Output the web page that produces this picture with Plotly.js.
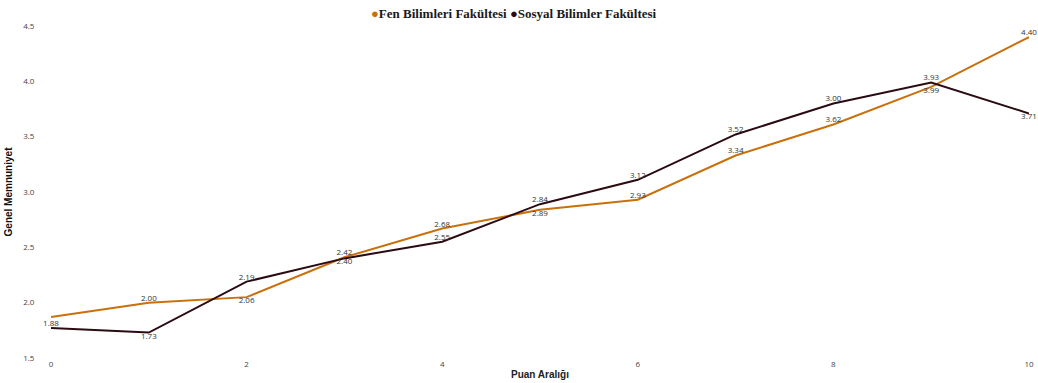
<!DOCTYPE html>
<html>
<head>
<meta charset="utf-8">
<script src="https://cdn.plot.ly/plotly-3.0.1.min.js"></script>
<style>html,body{margin:0;padding:0;background:#fff;}#chart{width:1038px;height:383px;}</style>
</head>
<body>
<div id="chart"></div>
<script>
const xVals = [0, 1, 2, 3, 4, 5, 6, 7, 8, 9, 10];
const fenValues = [1.87, 2.00, 2.05, 2.41, 2.67, 2.84, 2.93, 3.33, 3.61, 3.95, 4.40];
const sosyalValues = [1.77, 1.73, 2.19, 2.40, 2.55, 2.89, 3.11, 3.52, 3.80, 3.99, 3.71];
const fenLabels = ["", "2.00", "2.06", "2.42", "2.68", "2.89", "2.93", "3.34", "3.62", "3.99", "4.40"];
const fenLabelPos = ["bottom center", "top center", "bottom center", "top center", "top center", "bottom center", "top center", "top center", "top center", "bottom center", "top center"];
const sosyalLabels = ["1.88", "1.73", "2.19", "2.40", "2.55", "2.84", "3.12", "3.52", "3.00", "3.93", "3.71"];
const sosyalLabelPos = ["top center", "bottom center", "top center", "bottom center", "top center", "top center", "top center", "top center", "top center", "top center", "bottom center"];
const seriesNames = ["Fen Bilimleri Fakültesi", "Sosyal Bilimler Fakültesi"];
const seriesColors = ["#c8700c", "#2b0b12"];
const xTickVals = [0, 2, 4, 6, 8, 10];
const yTickVals = [1.5, 2.0, 2.5, 3.0, 3.5, 4.0, 4.5];
const yTickText = ["1.5", "2.0", "2.5", "3.0", "3.5", "4.0", "4.5"];

const labelFont = {family: "Open Sans, sans-serif", size: 8, color: "#333"};

const traces = [
  {
    x: xVals, y: fenValues, name: seriesNames[0], type: "scatter", mode: "lines+text",
    line: {color: seriesColors[0], width: 2}, showlegend: false,
    text: fenLabels, textposition: fenLabelPos, textfont: labelFont,
    cliponaxis: false
  },
  {
    x: xVals, y: sosyalValues, name: seriesNames[1], type: "scatter", mode: "lines+text",
    line: {color: seriesColors[1], width: 2}, showlegend: false,
    text: sosyalLabels, textposition: sosyalLabelPos, textfont: labelFont,
    cliponaxis: false
  }
];

const legendText = seriesNames.map(function(n, i){
  return "<span style='color:" + seriesColors[i] + "'>●</span>" + n;
}).join(" ");

const layout = {
  width: 1038, height: 383,
  margin: {l: 51, r: 9, t: 26, b: 25, autoexpand: false},
  paper_bgcolor: "#fff", plot_bgcolor: "#fff",
  showlegend: false,
  annotations: [{
    xref: "paper", yref: "paper", x: 0.473, y: 1.0, xanchor: "center", yanchor: "bottom", yshift: 3,
    showarrow: false, text: legendText,
    font: {family: "Liberation Serif, serif", size: 13, color: "#1a1a1a", weight: "bold"}
  }],
  xaxis: {
    range: [0, 10], tickvals: xTickVals, showgrid: false, zeroline: false, showline: false,
    ticks: "", tickfont: {family: "Open Sans, sans-serif", size: 8, color: "#444"},
    title: {text: "Puan Aralığı", font: {family: "Liberation Sans, Arial, sans-serif", size: 10, color: "#222", weight: "bold"}, standoff: 2}
  },
  yaxis: {
    range: [1.5, 4.5], tickvals: yTickVals, ticktext: yTickText,
    showgrid: false, zeroline: false, showline: false,
    ticks: "outside", ticklen: 14, tickcolor: "rgba(0,0,0,0)",
    tickfont: {family: "Open Sans, sans-serif", size: 8, color: "#444"},
    title: {text: "Genel Memnuniyet", font: {family: "Liberation Sans Narrow, Arial Narrow, sans-serif", size: 10, color: "#111", weight: "bold"}, standoff: 8}
  }
};

Plotly.newPlot("chart", traces, layout, {displayModeBar: false, staticPlot: true});
</script>
</body>
</html>
